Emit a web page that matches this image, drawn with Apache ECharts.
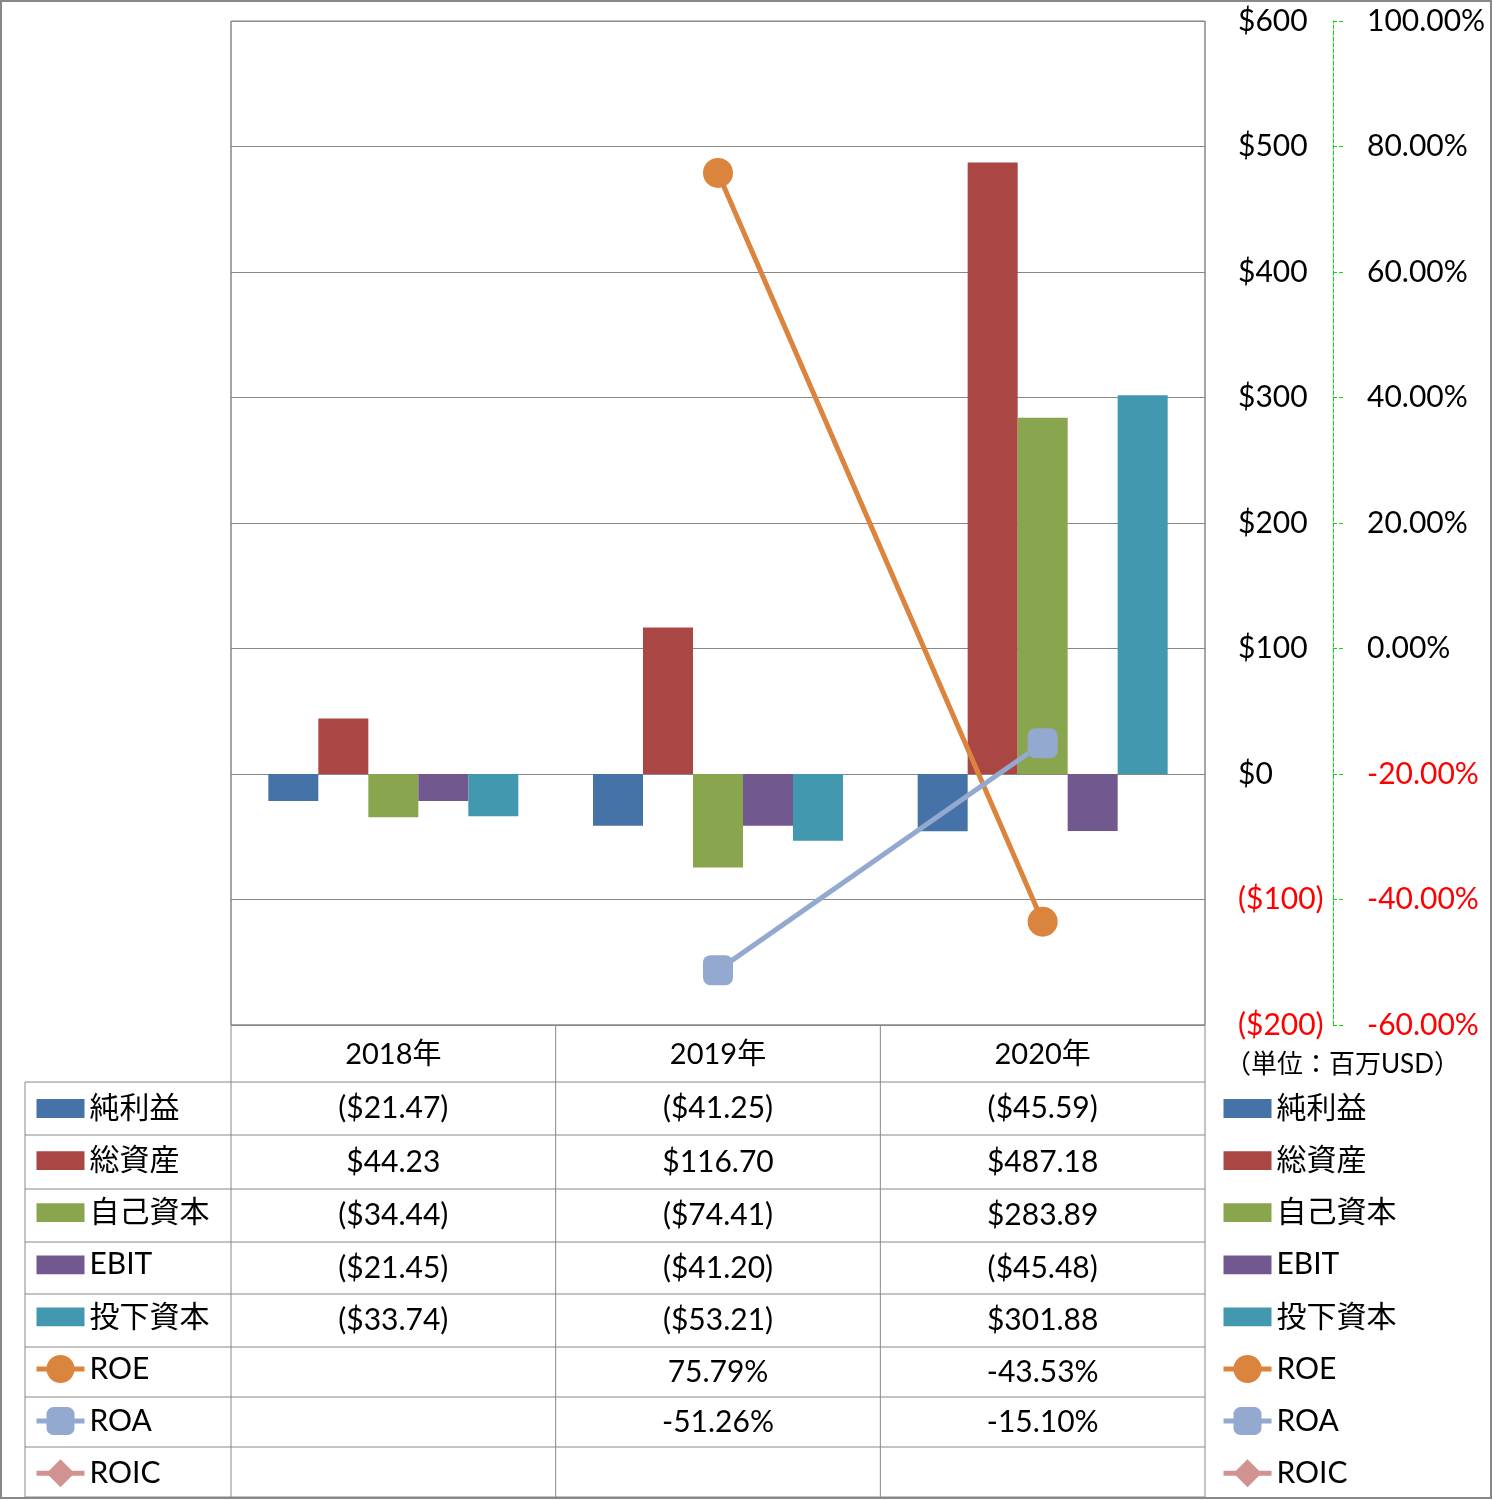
<!DOCTYPE html>
<html><head><meta charset="utf-8">
<script src="https://cdn.jsdelivr.net/npm/echarts@6/dist/echarts.min.js"></script>
<style>html,body{margin:0;padding:0;background:#fff}#c{width:1493px;height:1500px}</style>
</head><body><div id="c"></div>
<script>
// ---- data ----
const categories = ['2018年', '2019年', '2020年'];
const barNames = ['純利益', '総資産', '自己資本', 'EBIT', '投下資本'];
const netIncome = [-21.47, -41.25, -45.59];
const totalAssets = [44.23, 116.70, 487.18];
const equity = [-34.44, -74.41, 283.89];
const ebit = [-21.45, -41.20, -45.48];
const investedCapital = [-33.74, -53.21, 301.88];
const lineNames = ['ROE', 'ROA', 'ROIC'];
const roe = [null, 75.79, -43.53];
const roa = [null, -51.26, -15.10];
const roic = [null, null, null];
const leftAxis = { min: -200, max: 600, interval: 100 };
const rightAxis = { min: -60, max: 100, interval: 20 };
const unitLabel = '（単位：百万USD）';

// ---- style / layout ----
const barColors = ['#4572A7', '#AA4643', '#89A54E', '#71588F', '#4198AF'];
const lineColors = ['#DB843D', '#93A9CF', '#D09392'];
const lineSymbols = ['circle', 'roundRect', 'diamond'];
const FONT = 'Lato, "Noto Sans CJK JP", sans-serif';
const G = { left: 231, right: 1205, top: 21, bottom: 1025 };
const rowLines = [1025, 1082, 1135, 1189, 1242, 1294, 1347, 1397, 1447, 1497];
const tableLeft = 25;
const gridColor = '#888';

const barData = [netIncome, totalAssets, equity, ebit, investedCapital];
const lineData = [roe, roa, roic];

function money(v) {
  if (v == null) return '';
  const s = Math.abs(v).toFixed(2);
  return v < 0 ? '($' + s + ')' : '$' + s;
}
function pct(v) { return v == null ? '' : v.toFixed(2) + '%'; }

const series = [];
barNames.forEach((n, i) => series.push({
  name: n, type: 'bar', data: barData[i], barWidth: 50, barGap: 0,
  itemStyle: { color: barColors[i] }, yAxisIndex: 0
}));
lineNames.forEach((n, i) => series.push({
  name: n, type: 'line', data: lineData[i], yAxisIndex: 1,
  symbol: lineSymbols[i], symbolSize: 30,
  lineStyle: { color: lineColors[i], width: 5 },
  itemStyle: { color: lineColors[i] }, z: 5
}));

// ---- table graphics ----
const graphic = [];
const colW = (G.right - G.left) / categories.length;
function hline(x1, x2, y) { graphic.push({ type: 'line', silent: true, shape: { x1, y1: y, x2, y2: y }, style: { stroke: gridColor, lineWidth: 1 } }); }
function vline(x, y1, y2) { graphic.push({ type: 'line', silent: true, shape: { x1: x, y1, x2: x, y2 }, style: { stroke: gridColor, lineWidth: 1 } }); }
hline(G.left, G.right, rowLines[0]);
for (let r = 1; r < rowLines.length; r++) hline(tableLeft, G.right, rowLines[r]);
vline(G.left, G.top, rowLines[rowLines.length - 1]);
vline(G.right, G.top, rowLines[rowLines.length - 1]);
for (let c = 1; c < categories.length; c++) vline(G.left + c * colW, rowLines[0], rowLines[rowLines.length - 1]);
vline(tableLeft, rowLines[1], rowLines[rowLines.length - 1]);

const rowsText = [];
barData.forEach(arr => rowsText.push(arr.map(money)));
lineData.forEach(arr => rowsText.push(arr.map(pct)));
rowsText.forEach((row, r) => {
  const yc = (rowLines[r + 1] + rowLines[r + 2]) / 2;
  row.forEach((t, c) => {
    if (!t) return;
    graphic.push({ type: 'text', silent: true, x: G.left + (c + 0.5) * colW, y: yc,
      style: { text: t, fill: '#000', font: '30px ' + FONT, textAlign: 'center', textVerticalAlign: 'middle', align: 'center', verticalAlign: 'middle' } });
  });
});
graphic.push({ type: 'text', silent: true, x: 1225, y: 1065,
  style: { text: unitLabel, fill: '#000', font: '26px ' + FONT, textAlign: 'left', textVerticalAlign: 'middle', align: 'left', verticalAlign: 'middle' } });
graphic.push({ type: 'rect', silent: true, shape: { x: 1, y: 1, width: 1490, height: 1497 },
  style: { fill: 'none', stroke: gridColor, lineWidth: 2 } });

const barIcon = 'path://M0,0H46V18H0Z';
const legendData = barNames.map(n => ({ name: n, icon: barIcon })).concat(lineNames.map(n => ({ name: n })));
function legendCfg(left) {
  return {
    orient: 'vertical', left: left, top: 1091.5, padding: 0,
    itemWidth: 48, itemHeight: 35, itemGap: 18.1, symbolKeepAspect: true,
    selectedMode: false, data: legendData,
    lineStyle: { width: 5 },
    textStyle: { fontSize: 30, fontFamily: FONT, color: '#000', lineHeight: 34 }
  };
}

const chart = echarts.init(document.getElementById('c'), null, { renderer: 'canvas' });
chart.setOption({
  animation: false,
  backgroundColor: '#fff',
  grid: { left: G.left, top: G.top, width: G.right - G.left, height: G.bottom - G.top, show: true, borderColor: gridColor, borderWidth: 1 },
  legend: [legendCfg(1221), legendCfg(34)],
  xAxis: {
    type: 'category', data: categories,
    axisLine: { show: false }, axisTick: { show: false },
    axisLabel: { margin: 15, fontSize: 29, fontFamily: FONT, color: '#000' }
  },
  yAxis: [
    {
      type: 'value', position: 'right', min: leftAxis.min, max: leftAxis.max, interval: leftAxis.interval,
      axisLine: { show: false }, axisTick: { show: false },
      splitLine: { show: true, lineStyle: { color: gridColor, width: 1 } },
      axisLabel: { margin: 33, fontSize: 30, fontFamily: FONT, align: 'left',
        formatter: v => v < 0 ? '($' + (-v) + ')' : '$' + v,
        color: v => Number(v) < 0 ? '#ff0000' : '#000' }
    },
    {
      type: 'value', position: 'right', offset: 128, min: rightAxis.min, max: rightAxis.max, interval: rightAxis.interval,
      axisLine: { show: true, lineStyle: { color: '#00dd00', type: 'dashed', width: 1 } },
      axisTick: { show: true, inside: false, length: 11, lineStyle: { color: '#00dd00', type: 'dashed' } },
      splitLine: { show: false },
      axisLabel: { margin: 34, fontSize: 30, fontFamily: FONT, align: 'left',
        formatter: v => Number(v).toFixed(2) + '%',
        color: v => Number(v) < 0 ? '#ff0000' : '#000' }
    }
  ],
  series: series,
  graphic: graphic
});
</script></body></html>
